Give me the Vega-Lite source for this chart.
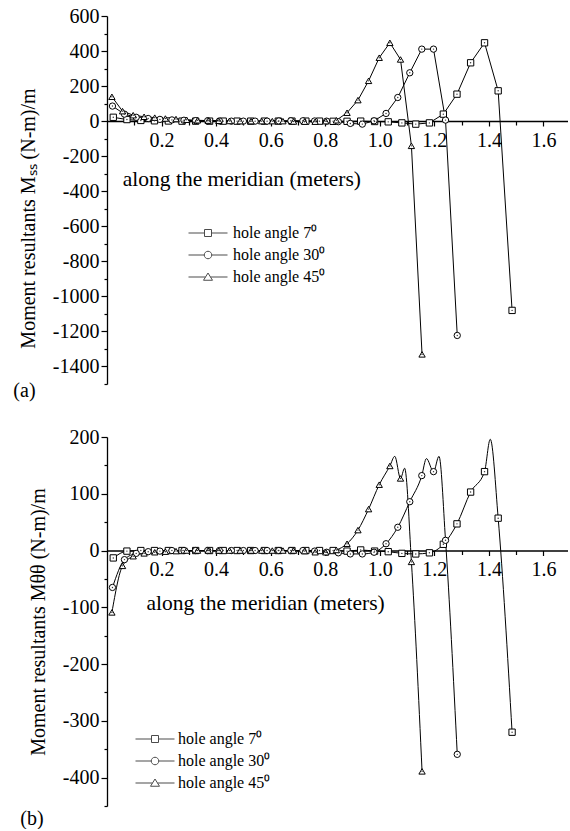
{
  "$schema": "https://vega.github.io/schema/vega-lite/v6.json",
  "padding": {"left": 13, "top": 6, "right": 0, "bottom": 0},
  "spacing": 26,
  "config": {
    "font": "Liberation Serif",
    "view": {"stroke": null},
    "axis": {"grid": false, "domainColor": "black", "domainWidth": 1.3, "tickColor": "black", "tickWidth": 1.2, "labelColor": "black", "labelFont": "Liberation Serif", "labelFontSize": 20, "titleFont": "Liberation Serif", "titleFontSize": 20, "titleFontWeight": "normal", "titleColor": "black", "labelOverlap": false},
    "legend": {"labelFont": "Liberation Serif", "labelColor": "black"}
  },
  "datasets": {
    "a": [
      {"s":"7","x":0.023,"y":22},{"s":"7","x":0.073,"y":9},{"s":"7","x":0.124,"y":4},{"s":"7","x":0.174,"y":2},{"s":"7","x":0.225,"y":1},{"s":"7","x":0.275,"y":0},{"s":"7","x":0.325,"y":0},{"s":"7","x":0.376,"y":0},{"s":"7","x":0.426,"y":0},{"s":"7","x":0.477,"y":0},{"s":"7","x":0.527,"y":0},{"s":"7","x":0.577,"y":0},{"s":"7","x":0.628,"y":0},{"s":"7","x":0.678,"y":0},{"s":"7","x":0.729,"y":0},{"s":"7","x":0.779,"y":0},{"s":"7","x":0.829,"y":-1},{"s":"7","x":0.880,"y":-1},{"s":"7","x":0.930,"y":0},{"s":"7","x":0.981,"y":-2},{"s":"7","x":1.031,"y":-4},{"s":"7","x":1.081,"y":-10},{"s":"7","x":1.132,"y":-17},{"s":"7","x":1.182,"y":-10},{"s":"7","x":1.233,"y":40},{"s":"7","x":1.283,"y":154},{"s":"7","x":1.333,"y":333},{"s":"7","x":1.384,"y":447},{"s":"7","x":1.434,"y":173},{"s":"7","x":1.485,"y":-1080},
      {"s":"30","x":0.020,"y":86},{"s":"30","x":0.064,"y":40},{"s":"30","x":0.107,"y":22},{"s":"30","x":0.151,"y":15},{"s":"30","x":0.194,"y":10},{"s":"30","x":0.238,"y":7},{"s":"30","x":0.282,"y":5},{"s":"30","x":0.325,"y":3},{"s":"30","x":0.369,"y":2},{"s":"30","x":0.412,"y":1},{"s":"30","x":0.456,"y":0},{"s":"30","x":0.500,"y":0},{"s":"30","x":0.543,"y":0},{"s":"30","x":0.587,"y":0},{"s":"30","x":0.630,"y":1},{"s":"30","x":0.674,"y":2},{"s":"30","x":0.718,"y":2},{"s":"30","x":0.761,"y":1},{"s":"30","x":0.805,"y":0},{"s":"30","x":0.848,"y":-3},{"s":"30","x":0.892,"y":-13},{"s":"30","x":0.936,"y":-17},{"s":"30","x":0.979,"y":2},{"s":"30","x":1.023,"y":44},{"s":"30","x":1.066,"y":135},{"s":"30","x":1.110,"y":276},{"s":"30","x":1.154,"y":411},{"s":"30","x":1.197,"y":411},{"s":"30","x":1.241,"y":6},{"s":"30","x":1.284,"y":-1223},
      {"s":"45","x":0.018,"y":139},{"s":"45","x":0.057,"y":57},{"s":"45","x":0.096,"y":34},{"s":"45","x":0.136,"y":25},{"s":"45","x":0.175,"y":20},{"s":"45","x":0.214,"y":15},{"s":"45","x":0.253,"y":12},{"s":"45","x":0.292,"y":8},{"s":"45","x":0.332,"y":5},{"s":"45","x":0.371,"y":3},{"s":"45","x":0.410,"y":2},{"s":"45","x":0.449,"y":1},{"s":"45","x":0.488,"y":0},{"s":"45","x":0.528,"y":0},{"s":"45","x":0.567,"y":0},{"s":"45","x":0.606,"y":0},{"s":"45","x":0.645,"y":0},{"s":"45","x":0.684,"y":-2},{"s":"45","x":0.724,"y":-3},{"s":"45","x":0.763,"y":-3},{"s":"45","x":0.802,"y":0},{"s":"45","x":0.841,"y":5},{"s":"45","x":0.880,"y":48},{"s":"45","x":0.920,"y":120},{"s":"45","x":0.959,"y":230},{"s":"45","x":0.998,"y":362},{"s":"45","x":1.037,"y":447},{"s":"45","x":1.076,"y":352},{"s":"45","x":1.116,"y":-141},{"s":"45","x":1.155,"y":-1331}
    ],
    "b": [
      {"s":"7","x":0.023,"y":-13},{"s":"7","x":0.073,"y":-1},{"s":"7","x":0.124,"y":0},{"s":"7","x":0.174,"y":0},{"s":"7","x":0.225,"y":0},{"s":"7","x":0.275,"y":0},{"s":"7","x":0.325,"y":0},{"s":"7","x":0.376,"y":0},{"s":"7","x":0.426,"y":0},{"s":"7","x":0.477,"y":0},{"s":"7","x":0.527,"y":0},{"s":"7","x":0.577,"y":0},{"s":"7","x":0.628,"y":0},{"s":"7","x":0.678,"y":0},{"s":"7","x":0.729,"y":0},{"s":"7","x":0.779,"y":0},{"s":"7","x":0.829,"y":0},{"s":"7","x":0.880,"y":-1},{"s":"7","x":0.930,"y":1},{"s":"7","x":0.981,"y":-1},{"s":"7","x":1.031,"y":-2},{"s":"7","x":1.081,"y":-5},{"s":"7","x":1.132,"y":-6},{"s":"7","x":1.182,"y":-4},{"s":"7","x":1.233,"y":11},{"s":"7","x":1.283,"y":47},{"s":"7","x":1.333,"y":103},{"s":"7","x":1.384,"y":139},{"s":"7","x":1.434,"y":57},{"s":"7","x":1.485,"y":-320},
      {"s":"30","x":0.020,"y":-65},{"s":"30","x":0.064,"y":-16},{"s":"30","x":0.107,"y":-5},{"s":"30","x":0.151,"y":-2},{"s":"30","x":0.194,"y":-1},{"s":"30","x":0.238,"y":0},{"s":"30","x":0.282,"y":0},{"s":"30","x":0.325,"y":0},{"s":"30","x":0.369,"y":0},{"s":"30","x":0.412,"y":0},{"s":"30","x":0.456,"y":0},{"s":"30","x":0.500,"y":0},{"s":"30","x":0.543,"y":0},{"s":"30","x":0.587,"y":0},{"s":"30","x":0.630,"y":0},{"s":"30","x":0.674,"y":0},{"s":"30","x":0.718,"y":0},{"s":"30","x":0.761,"y":-1},{"s":"30","x":0.805,"y":-3},{"s":"30","x":0.848,"y":-4},{"s":"30","x":0.892,"y":-6},{"s":"30","x":0.936,"y":-6},{"s":"30","x":0.979,"y":-3},{"s":"30","x":1.023,"y":12},{"s":"30","x":1.066,"y":41},{"s":"30","x":1.110,"y":86},{"s":"30","x":1.154,"y":132},{"s":"30","x":1.197,"y":139},{"s":"30","x":1.241,"y":18},{"s":"30","x":1.284,"y":-359},
      {"s":"45","x":0.018,"y":-109},{"s":"45","x":0.057,"y":-27},{"s":"45","x":0.096,"y":-10},{"s":"45","x":0.136,"y":-5},{"s":"45","x":0.175,"y":-3},{"s":"45","x":0.214,"y":-2},{"s":"45","x":0.253,"y":-1},{"s":"45","x":0.292,"y":0},{"s":"45","x":0.332,"y":0},{"s":"45","x":0.371,"y":0},{"s":"45","x":0.410,"y":0},{"s":"45","x":0.449,"y":0},{"s":"45","x":0.488,"y":0},{"s":"45","x":0.528,"y":0},{"s":"45","x":0.567,"y":0},{"s":"45","x":0.606,"y":0},{"s":"45","x":0.645,"y":0},{"s":"45","x":0.684,"y":0},{"s":"45","x":0.724,"y":-1},{"s":"45","x":0.763,"y":-3},{"s":"45","x":0.802,"y":-3},{"s":"45","x":0.841,"y":1},{"s":"45","x":0.880,"y":12},{"s":"45","x":0.920,"y":36},{"s":"45","x":0.959,"y":73},{"s":"45","x":0.998,"y":116},{"s":"45","x":1.037,"y":149},{"s":"45","x":1.076,"y":127},{"s":"45","x":1.116,"y":-20},{"s":"45","x":1.155,"y":-389}
    ],
    "bc": [
      {"s":"7","x":0.023,"y":-13},{"s":"7","x":0.073,"y":-1},{"s":"7","x":0.124,"y":0},{"s":"7","x":0.174,"y":0},{"s":"7","x":0.225,"y":0},{"s":"7","x":0.275,"y":0},{"s":"7","x":0.325,"y":0},{"s":"7","x":0.376,"y":0},{"s":"7","x":0.426,"y":0},{"s":"7","x":0.477,"y":0},{"s":"7","x":0.527,"y":0},{"s":"7","x":0.577,"y":0},{"s":"7","x":0.628,"y":0},{"s":"7","x":0.678,"y":0},{"s":"7","x":0.729,"y":0},{"s":"7","x":0.779,"y":0},{"s":"7","x":0.829,"y":0},{"s":"7","x":0.880,"y":-1},{"s":"7","x":0.930,"y":1},{"s":"7","x":0.981,"y":-1},{"s":"7","x":1.031,"y":-2},{"s":"7","x":1.081,"y":-5},{"s":"7","x":1.132,"y":-6},{"s":"7","x":1.182,"y":-4},{"s":"7","x":1.233,"y":11},{"s":"7","x":1.283,"y":47},{"s":"7","x":1.333,"y":103},{"s":"7","x":1.384,"y":139},{"s":"7","x":1.405,"y":196},{"s":"7","x":1.434,"y":57},{"s":"7","x":1.485,"y":-320},
      {"s":"30","x":0.020,"y":-65},{"s":"30","x":0.064,"y":-16},{"s":"30","x":0.107,"y":-5},{"s":"30","x":0.151,"y":-2},{"s":"30","x":0.194,"y":-1},{"s":"30","x":0.238,"y":0},{"s":"30","x":0.282,"y":0},{"s":"30","x":0.325,"y":0},{"s":"30","x":0.369,"y":0},{"s":"30","x":0.412,"y":0},{"s":"30","x":0.456,"y":0},{"s":"30","x":0.500,"y":0},{"s":"30","x":0.543,"y":0},{"s":"30","x":0.587,"y":0},{"s":"30","x":0.630,"y":0},{"s":"30","x":0.674,"y":0},{"s":"30","x":0.718,"y":0},{"s":"30","x":0.761,"y":-1},{"s":"30","x":0.805,"y":-3},{"s":"30","x":0.848,"y":-4},{"s":"30","x":0.892,"y":-6},{"s":"30","x":0.936,"y":-6},{"s":"30","x":0.979,"y":-3},{"s":"30","x":1.023,"y":12},{"s":"30","x":1.066,"y":41},{"s":"30","x":1.110,"y":86},{"s":"30","x":1.154,"y":132},{"s":"30","x":1.171,"y":162},{"s":"30","x":1.197,"y":139},{"s":"30","x":1.217,"y":166},{"s":"30","x":1.241,"y":18},{"s":"30","x":1.284,"y":-359},
      {"s":"45","x":0.018,"y":-109},{"s":"45","x":0.057,"y":-27},{"s":"45","x":0.096,"y":-10},{"s":"45","x":0.136,"y":-5},{"s":"45","x":0.175,"y":-3},{"s":"45","x":0.214,"y":-2},{"s":"45","x":0.253,"y":-1},{"s":"45","x":0.292,"y":0},{"s":"45","x":0.332,"y":0},{"s":"45","x":0.371,"y":0},{"s":"45","x":0.410,"y":0},{"s":"45","x":0.449,"y":0},{"s":"45","x":0.488,"y":0},{"s":"45","x":0.528,"y":0},{"s":"45","x":0.567,"y":0},{"s":"45","x":0.606,"y":0},{"s":"45","x":0.645,"y":0},{"s":"45","x":0.684,"y":0},{"s":"45","x":0.724,"y":-1},{"s":"45","x":0.763,"y":-3},{"s":"45","x":0.802,"y":-3},{"s":"45","x":0.841,"y":1},{"s":"45","x":0.880,"y":12},{"s":"45","x":0.920,"y":36},{"s":"45","x":0.959,"y":73},{"s":"45","x":0.998,"y":116},{"s":"45","x":1.037,"y":149},{"s":"45","x":1.055,"y":166},{"s":"45","x":1.076,"y":127},{"s":"45","x":1.091,"y":145},{"s":"45","x":1.116,"y":-20},{"s":"45","x":1.155,"y":-389}
    ]
  },
  "vconcat": [
    {
      "width": 461,
      "height": 368,
      "title": {"text": "(a)", "orient": "bottom", "anchor": "start", "frame": "bounds", "fontSize": 20, "fontWeight": "normal", "font": "Liberation Serif", "color": "black", "offset": -4, "dx": -5},
      "resolve": {"scale": {"shape": "independent"}, "legend": {"shape": "independent"}, "axis": {"x": "independent", "y": "independent"}},
      "layer": [
        {
          "data": {"name": "a"},
          "mark": {"type": "line", "color": "black", "strokeWidth": 1},
          "encoding": {
            "x": {"field": "x", "type": "quantitative", "scale": {"domain": [0, 1.69], "nice": false},
              "axis": {"title": null, "orient": "bottom", "offset": -263, "values": [0.2,0.4,0.6,0.8,1.0,1.2,1.4,1.6],
                "format": ".1f", "tickSize": 5, "labelPadding": 4}},
            "y": {"field": "y", "type": "quantitative", "scale": {"domain": [-1500, 600], "nice": false, "zero": false},
              "axis": {"title": "Moment resultants Mₛₛ (N-m)/m", "orient": "left", "titlePadding": 14, "titleY": 202, "labelPadding": 2, "tickSize": 6,
                "values": [-1400,-1200,-1000,-800,-600,-400,-200,0,200,400,600],
                "labelExpr": "'' + datum.value"}},
            "detail": {"field": "s", "type": "nominal"}
          }
        },
        {
          "data": {"name": "a"},
          "mark": {"type": "point", "filled": true, "fill": "white", "stroke": "black", "strokeWidth": 1, "size": 40, "opacity": 1},
          "encoding": {
            "x": {"field": "x", "type": "quantitative",
              "axis": {"title": null, "orient": "bottom", "offset": -263, "values": [0.1,0.3,0.5,0.7,0.9,1.1,1.3,1.5], "labels": false, "domain": false, "tickSize": 4}},
            "y": {"field": "y", "type": "quantitative",
              "axis": {"title": null, "orient": "left", "labels": false, "domain": false, "tickSize": 3, "values": [-1500,-1300,-1100,-900,-700,-500,-300,-100,100,300,500]}},
            "shape": {"field": "s", "type": "nominal", "scale": {"domain": ["7","30","45"], "range": ["square","circle","triangle-up"]}, "legend": null}
          }
        },
        {
          "data": {"name": "a"},
          "mark": {"type": "point", "shape": "circle", "filled": true, "color": "#333", "size": 2, "opacity": 1},
          "encoding": {
            "x": {"field": "x", "type": "quantitative", "axis": null},
            "y": {"field": "y", "type": "quantitative", "axis": null}
          }
        },
        {
          "data": {"values": [{}]},
          "mark": {"type": "text", "align": "left", "baseline": "alphabetic", "fontSize": 21.5, "font": "Liberation Serif", "color": "black"},
          "encoding": {
            "x": {"datum": 0.058, "type": "quantitative", "axis": null},
            "y": {"datum": -372, "type": "quantitative", "axis": null},
            "text": {"value": "along the meridian (meters)"}
          }
        },
        {
          "data": {"values": []},
          "mark": {"type": "point", "filled": false, "color": "black", "strokeWidth": 1},
          "encoding": {
            "x": {"field": "x", "type": "quantitative", "axis": null},
            "y": {"field": "y", "type": "quantitative", "axis": null},
            "shape": {"field": "s", "type": "nominal",
              "scale": {"domain": ["7","30","45"], "range": [
                "M-3.9,0H-0.7M0.7,0H3.9M-0.7,-0.7H0.7V0.7H-0.7Z",
                "M-3.9,0H-0.75M0.75,0H3.9M0.75,0A0.75,0.75,0,1,1,-0.75,0A0.75,0.75,0,1,1,0.75,0Z",
                "M-3.9,0H-0.5M0.5,0H3.9M0,-0.8L0.9,0.65L-0.9,0.65Z"]},
              "legend": {"orient": "none", "legendX": 93, "legendY": 209, "title": null, "symbolSize": 100, "symbolStrokeColor": "black", "symbolFillColor": "white", "symbolStrokeWidth": 1, "labelFontSize": 16, "labelOffset": 17, "rowPadding": 6, "labelExpr": "'hole angle ' + datum.label + '⁰'"}}
          }
        }
      ]
    },
    {
      "width": 461,
      "height": 369,
      "title": {"text": "(b)", "orient": "bottom", "anchor": "start", "frame": "bounds", "fontSize": 20, "fontWeight": "normal", "font": "Liberation Serif", "color": "black", "offset": 2, "dx": -8},
      "resolve": {"scale": {"shape": "independent"}, "legend": {"shape": "independent"}, "axis": {"x": "independent", "y": "independent"}},
      "layer": [
        {
          "data": {"name": "bc"},
          "mark": {"type": "line", "color": "black", "strokeWidth": 1, "interpolate": "monotone"},
          "encoding": {
            "x": {"field": "x", "type": "quantitative", "scale": {"domain": [0, 1.69], "nice": false},
              "axis": {"title": null, "orient": "bottom", "offset": -255.5, "values": [0.2,0.4,0.6,0.8,1.0,1.2,1.4,1.6],
                "format": ".1f", "tickSize": 5, "labelPadding": 4}},
            "y": {"field": "y", "type": "quantitative", "scale": {"domain": [-450, 200], "nice": false, "zero": false},
              "axis": {"title": "Moment resultants Mθθ (N-m)/m", "orient": "left", "titlePadding": 14, "labelPadding": 2, "tickSize": 6,
                "values": [-400,-300,-200,-100,0,100,200],
                "labelExpr": "'' + datum.value"}},
            "detail": {"field": "s", "type": "nominal"}
          }
        },
        {
          "data": {"name": "b"},
          "mark": {"type": "point", "filled": true, "fill": "white", "stroke": "black", "strokeWidth": 1, "size": 40, "opacity": 1},
          "encoding": {
            "x": {"field": "x", "type": "quantitative",
              "axis": {"title": null, "orient": "bottom", "offset": -255.5, "values": [0.1,0.3,0.5,0.7,0.9,1.1,1.3,1.5], "labels": false, "domain": false, "tickSize": 4}},
            "y": {"field": "y", "type": "quantitative",
              "axis": {"title": null, "orient": "left", "labels": false, "domain": false, "tickSize": 3, "values": [-450,-350,-250,-150,-50,50,150]}},
            "shape": {"field": "s", "type": "nominal", "scale": {"domain": ["7","30","45"], "range": ["square","circle","triangle-up"]}, "legend": null}
          }
        },
        {
          "data": {"name": "b"},
          "mark": {"type": "point", "shape": "circle", "filled": true, "color": "#333", "size": 2, "opacity": 1},
          "encoding": {
            "x": {"field": "x", "type": "quantitative", "axis": null},
            "y": {"field": "y", "type": "quantitative", "axis": null}
          }
        },
        {
          "data": {"values": [{}]},
          "mark": {"type": "text", "align": "left", "baseline": "alphabetic", "fontSize": 21.5, "font": "Liberation Serif", "color": "black"},
          "encoding": {
            "x": {"datum": 0.145, "type": "quantitative", "axis": null},
            "y": {"datum": -104, "type": "quantitative", "axis": null},
            "text": {"value": "along the meridian (meters)"}
          }
        },
        {
          "data": {"values": []},
          "mark": {"type": "point", "filled": false, "color": "black", "strokeWidth": 1},
          "encoding": {
            "x": {"field": "x", "type": "quantitative", "axis": null},
            "y": {"field": "y", "type": "quantitative", "axis": null},
            "shape": {"field": "s", "type": "nominal",
              "scale": {"domain": ["7","30","45"], "range": [
                "M-3.9,0H-0.7M0.7,0H3.9M-0.7,-0.7H0.7V0.7H-0.7Z",
                "M-3.9,0H-0.75M0.75,0H3.9M0.75,0A0.75,0.75,0,1,1,-0.75,0A0.75,0.75,0,1,1,0.75,0Z",
                "M-3.9,0H-0.5M0.5,0H3.9M0,-0.8L0.9,0.65L-0.9,0.65Z"]},
              "legend": {"orient": "none", "legendX": 40, "legendY": 294, "title": null, "symbolSize": 100, "symbolStrokeColor": "black", "symbolFillColor": "white", "symbolStrokeWidth": 1, "labelFontSize": 16, "labelOffset": 15, "rowPadding": 6, "labelExpr": "'hole angle ' + datum.label + '⁰'"}}
          }
        }
      ]
    }
  ]
}
